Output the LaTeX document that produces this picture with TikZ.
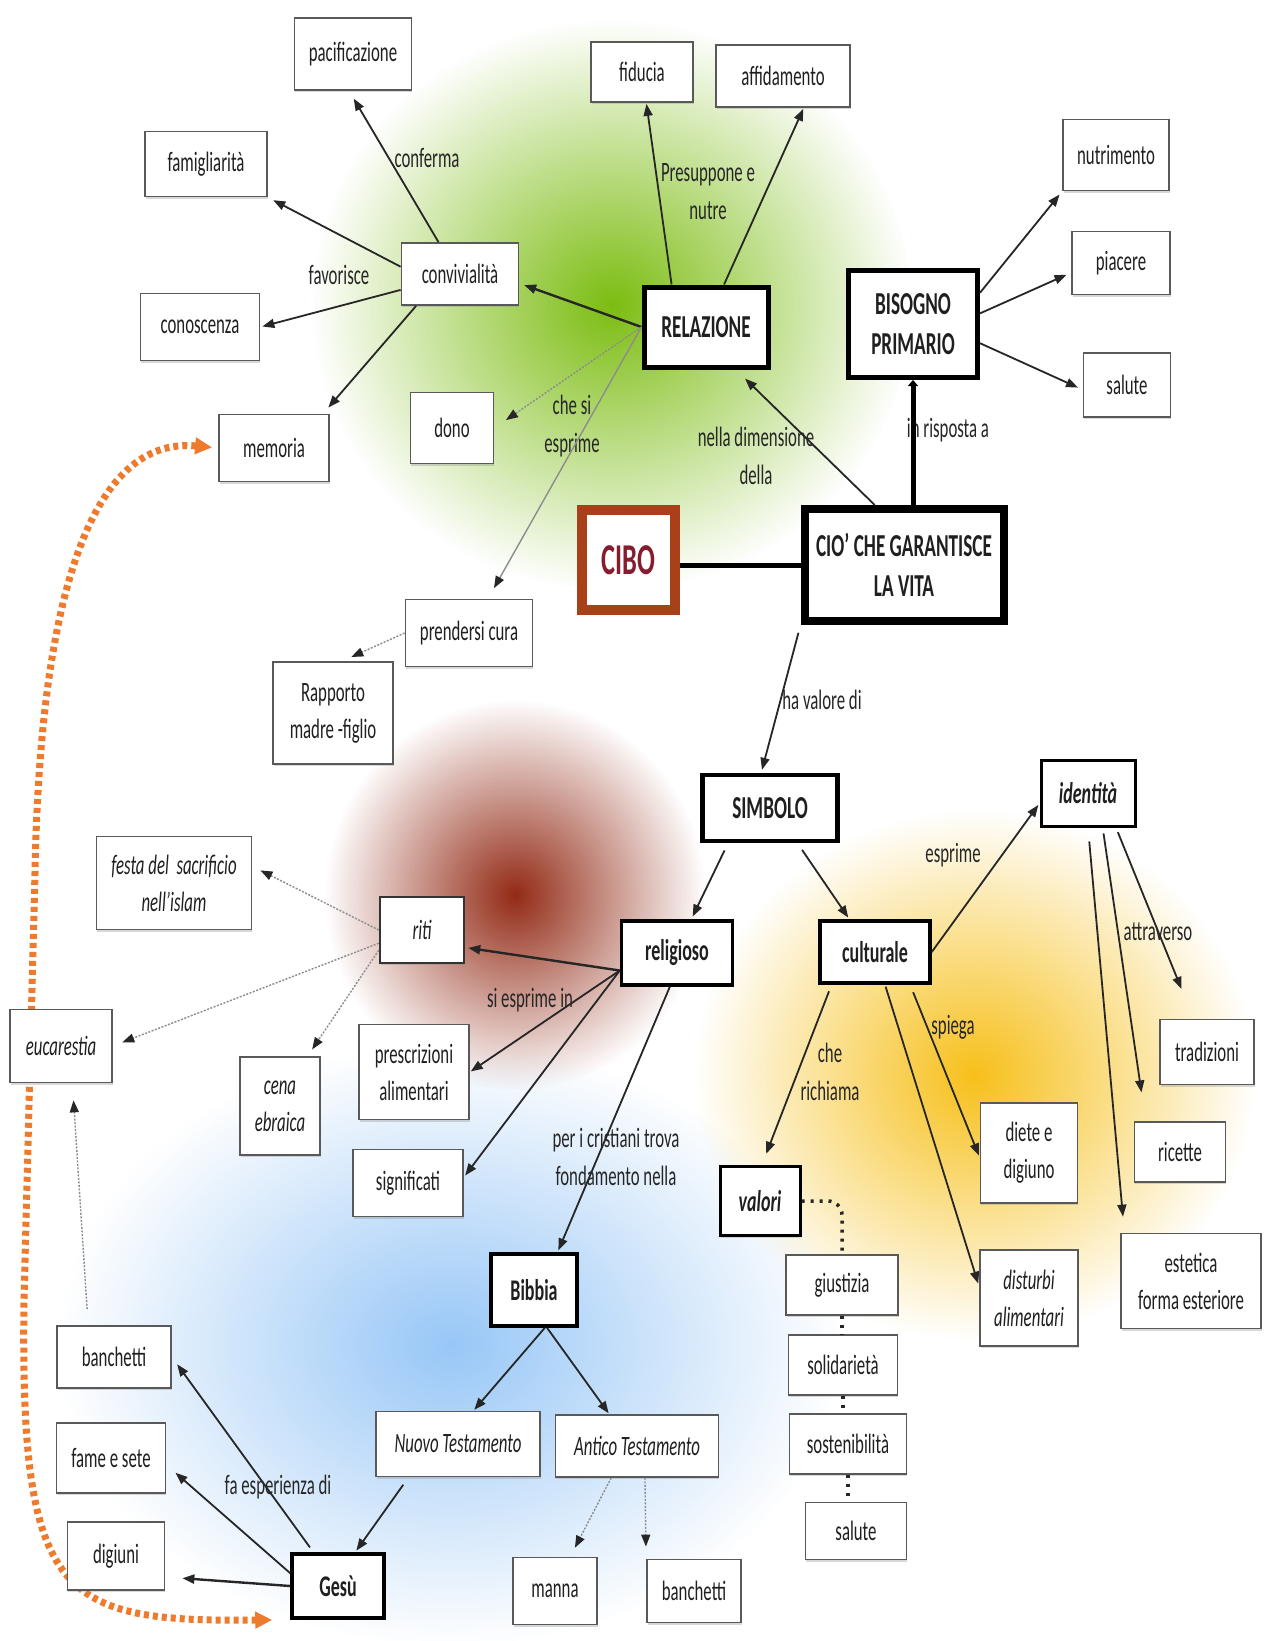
\documentclass[tikz,border=0pt]{standalone}
\usepackage{fontspec}
\setmainfont{Carlito}[FakeStretch=0.6]
\usepackage{tikz}
\usetikzlibrary{arrows.meta,positioning,calc,backgrounds,shadows,fadings}
\definecolor{cibobrown}{HTML}{A8401A}
\definecolor{cibored}{HTML}{861C2E}
\definecolor{glowgreen}{HTML}{7CBD12}
\definecolor{glowred}{HTML}{932B16}
\definecolor{glowblue}{HTML}{86BDF5}
\definecolor{glowyellow}{HTML}{F7C01A}
\definecolor{linkorange}{HTML}{EE7A2E}
\tikzfading[name=glow,inner color=transparent!0,outer color=transparent!100]
\tikzset{
  >={Triangle[length=12pt,width=9pt]},
  sz/.style 2 args={minimum width=#1pt,minimum height=#2pt},
  % riquadri
  bx/.style={draw=black!65,line width=1.8pt,fill=white,text=black!88,align=center,
             inner sep=1pt,font=\fontsize{28}{37}\selectfont,
             drop shadow={shadow xshift=.5pt,shadow yshift=-2pt,opacity=.3}},
  cors/.style={font=\fontsize{28}{37}\selectfont\itshape},
  bxk/.style={bx,draw=black,line width=5pt,font=\fontsize{32}{40}\selectfont\bfseries},
  bxm/.style={bx,draw=black,line width=3.5pt,font=\fontsize{30}{37}\selectfont\bfseries},
  bxi/.style={bx,draw=black,line width=3pt,font=\fontsize{30}{37}\selectfont\bfseries\itshape},
  cibo/.style={draw=cibobrown,line width=10pt,fill=white,text=cibored,
               font=\fontsize{44}{50}\selectfont\bfseries},
  lb/.style={font=\fontsize{28}{38}\selectfont,text=black!85,align=center,inner sep=0pt},
  % frecce
  ar/.style={->,draw=black!85,line width=1.8pt},
  ag/.style={-{Triangle[length=12pt,width=9pt,color=black!85]},draw=black!45,
             line width=1.4pt,dash pattern=on 2pt off 1.5pt},
  ak/.style={draw=black,line width=5pt},
  vd/.style={draw=black!85,line width=3.5pt,dash pattern=on 3pt off 6pt},
  ao/.style={{Triangle[length=17pt,width=16pt]}-{Triangle[length=17pt,width=16pt]},
             draw=linkorange,line width=7pt,dash pattern=on 5pt off 4pt},
}

\begin{document}
\begin{tikzpicture}[x=1pt,y=-1pt]
  \useasboundingbox (0,0) rectangle (1270,1641);
  \begin{scope}[on background layer]
    \fill[white] (0,0) rectangle (1270,1641);
    \fill[glowgreen,path fading=glow] (612,305) ellipse [x radius=300pt,y radius=285pt];
    \fill[glowred,path fading=glow] (515,895) ellipse [x radius=190pt,y radius=195pt];
    \fill[glowblue!85,path fading=glow] (450,1345) ellipse [x radius=390pt,y radius=300pt];
    \fill[glowyellow,path fading=glow] (975,1075) ellipse [x radius=280pt,y radius=265pt];
  \end{scope}

  % parte alta
  \node[bx,sz={117}{72}] (pac) at (353,54) {pacificazione};
  \node[bx,sz={102}{60}] (fid) at (642,72) {fiducia};
  \node[bx,sz={134}{62}] (aff) at (783,76) {affidamento};
  \node[bx,sz={122}{65}] (fam) at (206,164) {famigliarità};
  \node[bx,sz={106}{71}] (nut) at (1116,155) {nutrimento};
  \node[bx,sz={117}{62}] (conv) at (460,274) {convivialità};
  \node[bxk,sz={124}{80}] (rel) at (706,327) {RELAZIONE};
  \node[bxk,sz={129}{107}] (bis) at (913,324) {BISOGNO\\PRIMARIO};
  \node[bx,sz={98}{63}] (pia) at (1121,263) {piacere};
  \node[bx,sz={119}{67}] (con) at (200,327) {conoscenza};
  \node[bx,sz={87}{64}] (sal) at (1127,385) {salute};
  \node[bx,sz={83}{71}] (dono) at (452,428) {dono};
  \node[bx,sz={110}{67}] (mem) at (274,448) {memoria};
  \node[cibo,sz={93}{100}] (cibo) at (628,560) {CIBO};
  \node[bxk,line width=8pt,sz={199}{112}] (cio) at (904,565) {CIO' CHE GARANTISCE\\LA VITA};
  \node[bx,sz={127}{67}] (pren) at (469,633) {prendersi cura};
  \node[bx,sz={120}{102}] (rap) at (333,713) {Rapporto\\madre -figlio};

  % parte centrale
  \node[bxk,line width=4.5pt,sz={135}{66}] (sim) at (770,808) {SIMBOLO};
  \node[bxi,sz={94}{66}] (ide) at (1088,793) {identità};
  \node[bx,cors,sz={155}{93}] (fes) at (174,883) {festa del\ \ sacrificio\\nell'islam};
  \node[bx,cors,draw=black!80,line width=2.5pt,sz={84}{66}] (riti) at (422,930) {riti};
  \node[bxm,sz={111}{64}] (relg) at (677,953) {religioso};
  \node[bxm,sz={110}{62}] (cul) at (875,952) {culturale};
  \node[bx,cors,sz={102}{73}] (euc) at (61,1046) {eucarestia};
  \node[bx,sz={94}{65}] (tra) at (1207,1052) {tradizioni};
  \node[bx,cors,sz={80}{98}] (cena) at (280,1106) {cena\\ebraica};
  \node[bx,sz={110}{95}] (pre) at (414,1072) {prescrizioni\\alimentari};
  \node[bx,sz={110}{67}] (sig) at (408,1183) {significati};
  \node[bx,sz={97}{100}] (die) at (1029,1153) {diete e\\digiuno};
  \node[bx,sz={91}{60}] (ric) at (1180,1152) {ricette};
  \node[bxi,sz={80}{69}] (val) at (760,1201) {valori};
  \node[bx,sz={112}{60}] (giu) at (842,1285) {giustizia};
  \node[bx,cors,sz={98}{96}] (dis) at (1029,1298) {disturbi\\alimentari};
  \node[bx,sz={140}{95}] (est) at (1191,1281) {estetica\\forma esteriore};

  % parte bassa
  \node[bxm,sz={86}{72}] (bib) at (534,1290) {Bibbia};
  \node[bx,sz={114}{62}] (ban) at (114,1357) {banchetti};
  \node[bx,sz={109}{60}] (sol) at (843,1365) {solidarietà};
  \node[bx,cors,sz={164}{65}] (nt) at (458,1444) {Nuovo Testamento};
  \node[bx,cors,sz={163}{62}] (ant) at (637,1446) {Antico Testamento};
  \node[bx,sz={109}{70}] (fs) at (111,1458) {fame e sete};
  \node[bx,sz={117}{60}] (sos) at (848,1444) {sostenibilità};
  \node[bx,sz={97}{68}] (dig) at (116,1556) {digiuni};
  \node[bx,sz={101}{57}] (sal2) at (856,1531) {salute};
  \node[bxm,sz={92}{64}] (ges) at (338,1586) {Gesù};
  \node[bx,sz={84}{67}] (man) at (555,1591) {manna};
  \node[bx,sz={94}{63}] (ban2) at (694,1591) {banchetti};

  % etichette
  \node[lb] (l1) at (427,158) {conferma};
  \node[lb] (l2) at (339,275) {favorisce};
  \node[lb] (l3) at (708,192) {Presuppone e\\nutre};
  \node[lb] (l4) at (572,426) {che si\\esprime};
  \node[lb] (l5) at (756,456) {nella dimensione\\della};
  \node[lb] (l6) at (948,430) {in risposta a};
  \node[lb] (l7) at (822,700) {ha valore di};
  \node[lb] (l8) at (953,855) {esprime};
  \node[lb] (l9) at (1158,932) {attraverso};
  \node[lb] (l10) at (530,1000) {si esprime in};
  \node[lb] (l11) at (953,1027) {spiega};
  \node[lb] (l12) at (830,1072) {che\\richiama};
  \node[lb] (l13) at (616,1157) {per i cristiani trova\\fondamento nella};
  \node[lb] (l14) at (278,1487) {fa esperienza di};

  % collegamenti
  \draw[ar,shorten >=9pt] (conv.124) -- (pac.264);
  \draw[ar,shorten >=6pt] (conv.173) -- (fam.south east);
  \draw[ar,shorten >=2pt] (conv.195) -- (con.east);
  \draw[ar,shorten >=8pt] (conv.216) -- (mem.35);
  \draw[ar,line width=2.4pt,shorten >=5pt] (rel.west) -- (conv.351);
  \draw[ag,shorten >=14pt] (rel.west) -- (dono.east);
  \draw[ag,solid,shorten >=12pt] (rel.west) -- (pren.61);
  \draw[ag,shorten >=10pt] (pren.west) -- (rap.80);
  \draw[ar,shorten >=1pt] (rel.129) -- (fid.278);
  \draw[ar,shorten >=1pt] (rel.67) -- (aff.303);
  \draw[ar,shorten >=13pt] (cio.116) -- (rel.305);
  \draw[ak,-{Triangle[length=6pt,width=10pt]}] (cio.north -| bis.south) -- (bis.south);
  \draw[ar,shorten >=4pt] (bis.25) -- (nut.south west);
  \draw[ar,shorten >=5pt] (bis.9) -- (pia.191);
  \draw[ar,shorten >=5pt] (bis.344) -- (sal.186);
  \draw[ak] (cio.west) -- (cio.west -| cibo.east);
  \draw[ar,shorten <=8pt,shorten >=3pt] (cio.south west) -- (sim.104);
  \draw[ar,shorten <=8pt,shorten >=3pt] (sim.220) -- (relg.67);
  \draw[ar,shorten <=8pt,shorten >=2pt] (sim.308) -- (cul.128);
  \draw[ar,shorten >=2pt] (cul.east) -- (ide.192);
  \draw[ar,shorten <=5pt,shorten >=32pt] (ide.309) -- (tra.112);
  \draw[ar,shorten <=6pt,shorten >=29pt] (ide.293) -- (ric.138);
  \draw[ar,shorten <=14pt,shorten >=16pt] (ide.270) -- (est.144);
  \draw[ar,shorten <=8pt,shorten >=2pt] (cul.317) -- (die.185);
  \draw[ar,shorten <=2pt,shorten >=3pt] (cul.287) -- (dis.167);
  \draw[ar,shorten <=7pt,shorten >=12pt] (cul.217) -- (val.87);
  \draw[vd,rounded corners=14pt] (val.east) -| (giu.north);
  \draw[vd] (giu.south) -- (giu.south |- sol.north);
  \draw[vd] (sol.south) -- (sol.south |- sos.north);
  \draw[vd] (sos.south) -- (sos.south |- sal2.north);
  \draw[ar,line width=2.4pt,shorten >=3pt] (relg.197) -- (riti.338);
  \draw[ar,shorten >=1pt] (relg.197) -- (pre.east);
  \draw[ar,shorten >=2pt] (relg.197) -- (sig.6);
  \draw[ar,shorten >=2pt] (relg.258) -- (bib.58);
  \draw[ag,shorten >=9pt] (riti.west) -- (fes.12);
  \draw[ag,shorten >=10pt] (riti.197) -- (euc.east);
  \draw[ag,shorten >=8pt] (riti.205) -- (cena.61);
  \draw[ag,shorten <=16pt,shorten >=17pt] (ban.129) -- (euc.287);
  \draw[ar,shorten >=1pt] (bib.286) -- (nt.65);
  \draw[ar,shorten >=1pt] (bib.289) -- (ant.131);
  \draw[ar,shorten <=9pt,shorten >=2pt] (nt.214) -- (ges.63);
  \draw[ag,shorten >=10pt] (ant.231) -- (man.66);
  \draw[ag,shorten >=12pt] (ant.284) -- (ban2.north west);
  \draw[ar,shorten <=6pt,shorten >=9pt] (ges.126) -- (ban.east);
  \draw[ar,shorten >=12pt] (ges.165) -- (fs.353);
  \draw[ar,line width=2.4pt,shorten >=17pt] (ges.west) -- (dig.337);
  \begin{scope}[on background layer]
    \draw[ao,shorten <=6pt,shorten >=18pt] (mem.west)
      .. controls (90,436) and (40,600) .. (35,873) -- (24,1300)
      .. controls (20,1600) and (60,1622) .. (ges.south west);
  \end{scope}
\end{tikzpicture}
\end{document}
